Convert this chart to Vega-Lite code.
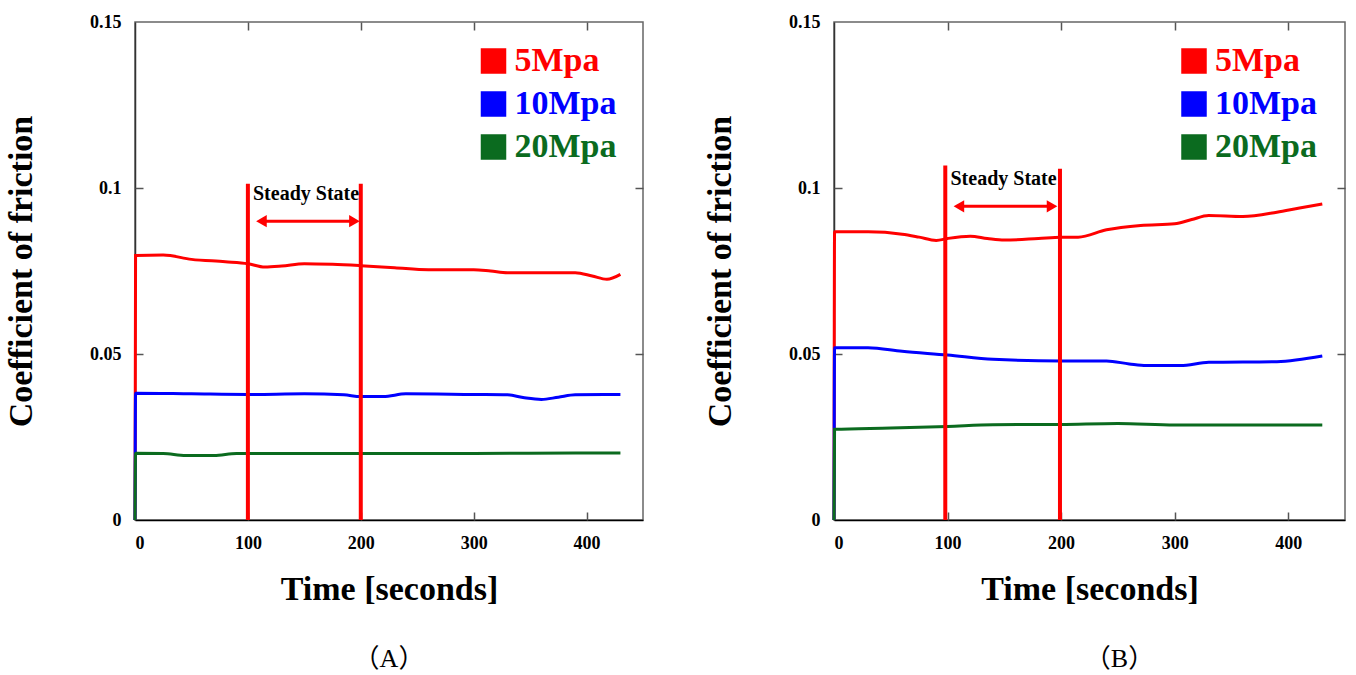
{
  "$schema": "https://vega.github.io/schema/vega-lite/v6.json",
  "padding": {"left": 3, "top": 12, "right": 5, "bottom": 5},
  "background": "white",
  "datasets": {
    "A": [
      {"t": 0, "f": 0, "s": "5Mpa"}, {"t": 0.5, "f": 0.0797, "s": "5Mpa"}, {"t": 25, "f": 0.0798, "s": "5Mpa"}, {"t": 50, "f": 0.0785, "s": "5Mpa"}, {"t": 80, "f": 0.0778, "s": "5Mpa"}, {"t": 100, "f": 0.0772, "s": "5Mpa"}, {"t": 115, "f": 0.0762, "s": "5Mpa"}, {"t": 130, "f": 0.0765, "s": "5Mpa"}, {"t": 150, "f": 0.0772, "s": "5Mpa"}, {"t": 175, "f": 0.077, "s": "5Mpa"}, {"t": 200, "f": 0.0766, "s": "5Mpa"}, {"t": 230, "f": 0.076, "s": "5Mpa"}, {"t": 260, "f": 0.0754, "s": "5Mpa"}, {"t": 300, "f": 0.0754, "s": "5Mpa"}, {"t": 315, "f": 0.075, "s": "5Mpa"}, {"t": 330, "f": 0.0745, "s": "5Mpa"}, {"t": 360, "f": 0.0745, "s": "5Mpa"}, {"t": 390, "f": 0.0745, "s": "5Mpa"}, {"t": 405, "f": 0.0735, "s": "5Mpa"}, {"t": 418, "f": 0.0725, "s": "5Mpa"}, {"t": 430, "f": 0.074, "s": "5Mpa"},
      {"t": 0, "f": 0, "s": "10Mpa"}, {"t": 0.5, "f": 0.0382, "s": "10Mpa"}, {"t": 50, "f": 0.038, "s": "10Mpa"}, {"t": 100, "f": 0.0378, "s": "10Mpa"}, {"t": 150, "f": 0.038, "s": "10Mpa"}, {"t": 185, "f": 0.0377, "s": "10Mpa"}, {"t": 200, "f": 0.0372, "s": "10Mpa"}, {"t": 220, "f": 0.0372, "s": "10Mpa"}, {"t": 240, "f": 0.038, "s": "10Mpa"}, {"t": 300, "f": 0.0378, "s": "10Mpa"}, {"t": 330, "f": 0.0377, "s": "10Mpa"}, {"t": 345, "f": 0.0368, "s": "10Mpa"}, {"t": 360, "f": 0.0363, "s": "10Mpa"}, {"t": 375, "f": 0.037, "s": "10Mpa"}, {"t": 390, "f": 0.0377, "s": "10Mpa"}, {"t": 430, "f": 0.0378, "s": "10Mpa"},
      {"t": 0, "f": 0, "s": "20Mpa"}, {"t": 0.5, "f": 0.0201, "s": "20Mpa"}, {"t": 25, "f": 0.02, "s": "20Mpa"}, {"t": 45, "f": 0.0194, "s": "20Mpa"}, {"t": 70, "f": 0.0194, "s": "20Mpa"}, {"t": 90, "f": 0.02, "s": "20Mpa"}, {"t": 200, "f": 0.02, "s": "20Mpa"}, {"t": 300, "f": 0.02, "s": "20Mpa"}, {"t": 390, "f": 0.0202, "s": "20Mpa"}, {"t": 430, "f": 0.0202, "s": "20Mpa"}
    ],
    "B": [
      {"t": 0, "f": 0, "s": "5Mpa"}, {"t": 0.5, "f": 0.0868, "s": "5Mpa"}, {"t": 30, "f": 0.0868, "s": "5Mpa"}, {"t": 60, "f": 0.0861, "s": "5Mpa"}, {"t": 75, "f": 0.0852, "s": "5Mpa"}, {"t": 90, "f": 0.0842, "s": "5Mpa"}, {"t": 100, "f": 0.0848, "s": "5Mpa"}, {"t": 120, "f": 0.0855, "s": "5Mpa"}, {"t": 135, "f": 0.0848, "s": "5Mpa"}, {"t": 150, "f": 0.0843, "s": "5Mpa"}, {"t": 180, "f": 0.0848, "s": "5Mpa"}, {"t": 200, "f": 0.0852, "s": "5Mpa"}, {"t": 215, "f": 0.0852, "s": "5Mpa"}, {"t": 240, "f": 0.0874, "s": "5Mpa"}, {"t": 270, "f": 0.0887, "s": "5Mpa"}, {"t": 300, "f": 0.0892, "s": "5Mpa"}, {"t": 315, "f": 0.0905, "s": "5Mpa"}, {"t": 330, "f": 0.0917, "s": "5Mpa"}, {"t": 360, "f": 0.0914, "s": "5Mpa"}, {"t": 390, "f": 0.0927, "s": "5Mpa"}, {"t": 410, "f": 0.094, "s": "5Mpa"}, {"t": 430, "f": 0.0952, "s": "5Mpa"},
      {"t": 0, "f": 0, "s": "10Mpa"}, {"t": 0.5, "f": 0.0519, "s": "10Mpa"}, {"t": 30, "f": 0.0519, "s": "10Mpa"}, {"t": 60, "f": 0.0508, "s": "10Mpa"}, {"t": 100, "f": 0.0497, "s": "10Mpa"}, {"t": 140, "f": 0.0484, "s": "10Mpa"}, {"t": 200, "f": 0.0479, "s": "10Mpa"}, {"t": 240, "f": 0.0479, "s": "10Mpa"}, {"t": 260, "f": 0.047, "s": "10Mpa"}, {"t": 275, "f": 0.0465, "s": "10Mpa"}, {"t": 305, "f": 0.0465, "s": "10Mpa"}, {"t": 330, "f": 0.0475, "s": "10Mpa"}, {"t": 390, "f": 0.0477, "s": "10Mpa"}, {"t": 430, "f": 0.0494, "s": "10Mpa"},
      {"t": 0, "f": 0, "s": "20Mpa"}, {"t": 0.5, "f": 0.0273, "s": "20Mpa"}, {"t": 50, "f": 0.0277, "s": "20Mpa"}, {"t": 100, "f": 0.0282, "s": "20Mpa"}, {"t": 140, "f": 0.0287, "s": "20Mpa"}, {"t": 200, "f": 0.0288, "s": "20Mpa"}, {"t": 250, "f": 0.0291, "s": "20Mpa"}, {"t": 300, "f": 0.0286, "s": "20Mpa"}, {"t": 430, "f": 0.0286, "s": "20Mpa"}
    ],
    "rulesA": [{"t": 100, "top": 0.1013}, {"t": 200, "top": 0.1013}],
    "rulesB": [{"t": 98, "top": 0.1068}, {"t": 199, "top": 0.1058}],
    "arrowA": [{"t1": 112, "t2": 194.4, "y": 0.09}],
    "arrowB": [{"t1": 110, "t2": 192, "y": 0.0945}],
    "headsA": [{"t": 112, "y": 0.09, "end": "L"}, {"t": 194.4, "y": 0.09, "end": "R"}],
    "headsB": [{"t": 110, "y": 0.0945, "end": "L"}, {"t": 192, "y": 0.0945, "end": "R"}],
    "labelA": [{"t": 151.5, "y": 0.0983, "label": "Steady State"}],
    "labelB": [{"t": 149.3, "y": 0.1028, "label": "Steady State"}]
  },
  "config": {
    "view": {"stroke": "#666666", "strokeWidth": 1.5},
    "axis": {
      "grid": false,
      "labelFont": "Liberation Serif",
      "labelFontWeight": "bold",
      "labelFontSize": 18,
      "labelColor": "black",
      "titleFont": "Liberation Serif",
      "titleFontWeight": "bold",
      "titleFontSize": 34,
      "titleColor": "black",
      "tickColor": "#555555",
      "tickSize": 8,
      "tickWidth": 1.5,
      "domainColor": "#333333",
      "domainWidth": 1.5
    }
  },
  "spacing": 57,
  "resolve": {"scale": {"color": "independent"}, "legend": {"color": "independent"}},
  "hconcat": [
    {
      "width": 508,
      "height": 498,
      "title": {"text": "（A）", "orient": "bottom", "anchor": "middle", "font": "Liberation Serif, Noto Sans CJK SC", "fontSize": 26, "fontWeight": "normal", "color": "black", "offset": 40},
      "resolve": {"axis": {"x": "independent", "y": "independent"}},
      "layer": [
        {
          "data": {"name": "A"},
          "mark": {"type": "line", "strokeWidth": 3, "interpolate": "monotone"},
          "encoding": {
            "x": {"field": "t", "type": "quantitative", "scale": {"domain": [0, 450], "nice": false},
                  "axis": {"orient": "bottom", "title": "Time [seconds]", "values": [0, 100, 200, 300, 400], "labelExpr": "'' + datum.value", "ticks": false, "labelPadding": 14, "titlePadding": 20, "domainColor": "black"}},
            "y": {"field": "f", "type": "quantitative", "scale": {"domain": [0, 0.15], "nice": false},
                  "axis": {"orient": "left", "title": "Coefficient of friction", "values": [0, 0.05, 0.1, 0.15], "labelExpr": "'' + datum.value", "ticks": false, "labelPadding": 14, "titlePadding": 51}},
            "color": {"field": "s", "type": "nominal",
              "scale": {"domain": ["5Mpa", "10Mpa", "20Mpa"], "range": ["#ff0000", "#0000ff", "#0b6b1f"]},
              "legend": {"orient": "none", "legendX": 341.5, "legendY": 22, "title": null, "symbolType": "square", "symbolSize": 576,
                "labelFont": "Liberation Serif", "labelFontWeight": "bold", "labelFontSize": 34, "labelOffset": 4, "rowPadding": 9, "padding": 0,
                "labelLimit": 300,
                "encode": {
                  "symbols": {"update": {"fill": {"signal": "datum.value==='5Mpa'?'#ff0000':datum.value==='10Mpa'?'#0000ff':'#0b6b1f'"}, "fillOpacity": {"value": 1}}},
                  "labels": {"update": {"fill": {"signal": "datum.value==='5Mpa'?'#ff0000':datum.value==='10Mpa'?'#0000ff':'#0b6b1f'"}}}
                }}}
          }
        },
        {
          "data": {"name": "rulesA"},
          "mark": {"type": "rule", "color": "#ff0000", "strokeWidth": 4},
          "encoding": {
            "x": {"field": "t", "type": "quantitative", "axis": null},
            "y": {"field": "top", "type": "quantitative", "axis": null},
            "y2": {"datum": 0}
          }
        },
        {
          "data": {"name": "arrowA"},
          "mark": {"type": "rule", "color": "#ff0000", "strokeWidth": 3},
          "encoding": {
            "x": {"field": "t1", "type": "quantitative", "axis": {"orient": "top", "title": null, "labels": false, "domain": false, "values": [100, 200, 300, 400], "offset": -8}},
            "x2": {"field": "t2"},
            "y": {"field": "y", "type": "quantitative", "axis": {"orient": "right", "title": null, "labels": false, "domain": false, "values": [0.05, 0.1], "offset": -8}}
          }
        },
        {
          "data": {"name": "headsA"},
          "mark": {"type": "point", "filled": true, "color": "#ff0000", "size": 150, "opacity": 1},
          "encoding": {
            "x": {"field": "t", "type": "quantitative", "axis": {"orient": "bottom", "title": null, "labels": false, "domain": false, "values": [100, 200, 300, 400], "offset": -8}},
            "y": {"field": "y", "type": "quantitative", "axis": {"orient": "left", "title": null, "labels": false, "domain": false, "values": [0.05, 0.1], "offset": -8}},
            "shape": {"field": "end", "type": "nominal", "scale": {"domain": ["L", "R"], "range": ["triangle-left", "triangle-right"]}, "legend": null}
          }
        },
        {
          "data": {"name": "labelA"},
          "mark": {"type": "text", "font": "Liberation Serif", "fontWeight": "bold", "fontSize": 20, "color": "black", "baseline": "middle", "align": "center"},
          "encoding": {
            "x": {"field": "t", "type": "quantitative", "axis": null},
            "y": {"field": "y", "type": "quantitative", "axis": null},
            "text": {"field": "label"}
          }
        }
      ]
    },
    {
      "width": 511,
      "height": 498,
      "title": {"text": "（B）", "orient": "bottom", "anchor": "middle", "font": "Liberation Serif, Noto Sans CJK SC", "fontSize": 26, "fontWeight": "normal", "color": "black", "offset": 40, "dx": 30},
      "resolve": {"axis": {"x": "independent", "y": "independent"}},
      "layer": [
        {
          "data": {"name": "B"},
          "mark": {"type": "line", "strokeWidth": 3, "interpolate": "monotone"},
          "encoding": {
            "x": {"field": "t", "type": "quantitative", "scale": {"domain": [0, 450], "nice": false},
                  "axis": {"orient": "bottom", "title": "Time [seconds]", "values": [0, 100, 200, 300, 400], "labelExpr": "'' + datum.value", "ticks": false, "labelPadding": 14, "titlePadding": 20, "domainColor": "black"}},
            "y": {"field": "f", "type": "quantitative", "scale": {"domain": [0, 0.15], "nice": false},
                  "axis": {"orient": "left", "title": "Coefficient of friction", "values": [0, 0.05, 0.1, 0.15], "labelExpr": "'' + datum.value", "ticks": false, "labelPadding": 14, "titlePadding": 51}},
            "color": {"field": "s", "type": "nominal",
              "scale": {"domain": ["5Mpa", "10Mpa", "20Mpa"], "range": ["#ff0000", "#0000ff", "#0b6b1f"]},
              "legend": {"orient": "none", "legendX": 343, "legendY": 22, "title": null, "symbolType": "square", "symbolSize": 576,
                "labelFont": "Liberation Serif", "labelFontWeight": "bold", "labelFontSize": 34, "labelOffset": 4, "rowPadding": 9, "padding": 0,
                "labelLimit": 300,
                "encode": {
                  "symbols": {"update": {"fill": {"signal": "datum.value==='5Mpa'?'#ff0000':datum.value==='10Mpa'?'#0000ff':'#0b6b1f'"}, "fillOpacity": {"value": 1}}},
                  "labels": {"update": {"fill": {"signal": "datum.value==='5Mpa'?'#ff0000':datum.value==='10Mpa'?'#0000ff':'#0b6b1f'"}}}
                }}}
          }
        },
        {
          "data": {"name": "rulesB"},
          "mark": {"type": "rule", "color": "#ff0000", "strokeWidth": 4},
          "encoding": {
            "x": {"field": "t", "type": "quantitative", "axis": null},
            "y": {"field": "top", "type": "quantitative", "axis": null},
            "y2": {"datum": 0}
          }
        },
        {
          "data": {"name": "arrowB"},
          "mark": {"type": "rule", "color": "#ff0000", "strokeWidth": 3},
          "encoding": {
            "x": {"field": "t1", "type": "quantitative", "axis": {"orient": "top", "title": null, "labels": false, "domain": false, "values": [100, 200, 300, 400], "offset": -8}},
            "x2": {"field": "t2"},
            "y": {"field": "y", "type": "quantitative", "axis": {"orient": "right", "title": null, "labels": false, "domain": false, "values": [0.05, 0.1], "offset": -8}}
          }
        },
        {
          "data": {"name": "headsB"},
          "mark": {"type": "point", "filled": true, "color": "#ff0000", "size": 150, "opacity": 1},
          "encoding": {
            "x": {"field": "t", "type": "quantitative", "axis": {"orient": "bottom", "title": null, "labels": false, "domain": false, "values": [100, 200, 300, 400], "offset": -8}},
            "y": {"field": "y", "type": "quantitative", "axis": {"orient": "left", "title": null, "labels": false, "domain": false, "values": [0.05, 0.1], "offset": -8}},
            "shape": {"field": "end", "type": "nominal", "scale": {"domain": ["L", "R"], "range": ["triangle-left", "triangle-right"]}, "legend": null}
          }
        },
        {
          "data": {"name": "labelB"},
          "mark": {"type": "text", "font": "Liberation Serif", "fontWeight": "bold", "fontSize": 20, "color": "black", "baseline": "middle", "align": "center"},
          "encoding": {
            "x": {"field": "t", "type": "quantitative", "axis": null},
            "y": {"field": "y", "type": "quantitative", "axis": null},
            "text": {"field": "label"}
          }
        }
      ]
    }
  ]
}
